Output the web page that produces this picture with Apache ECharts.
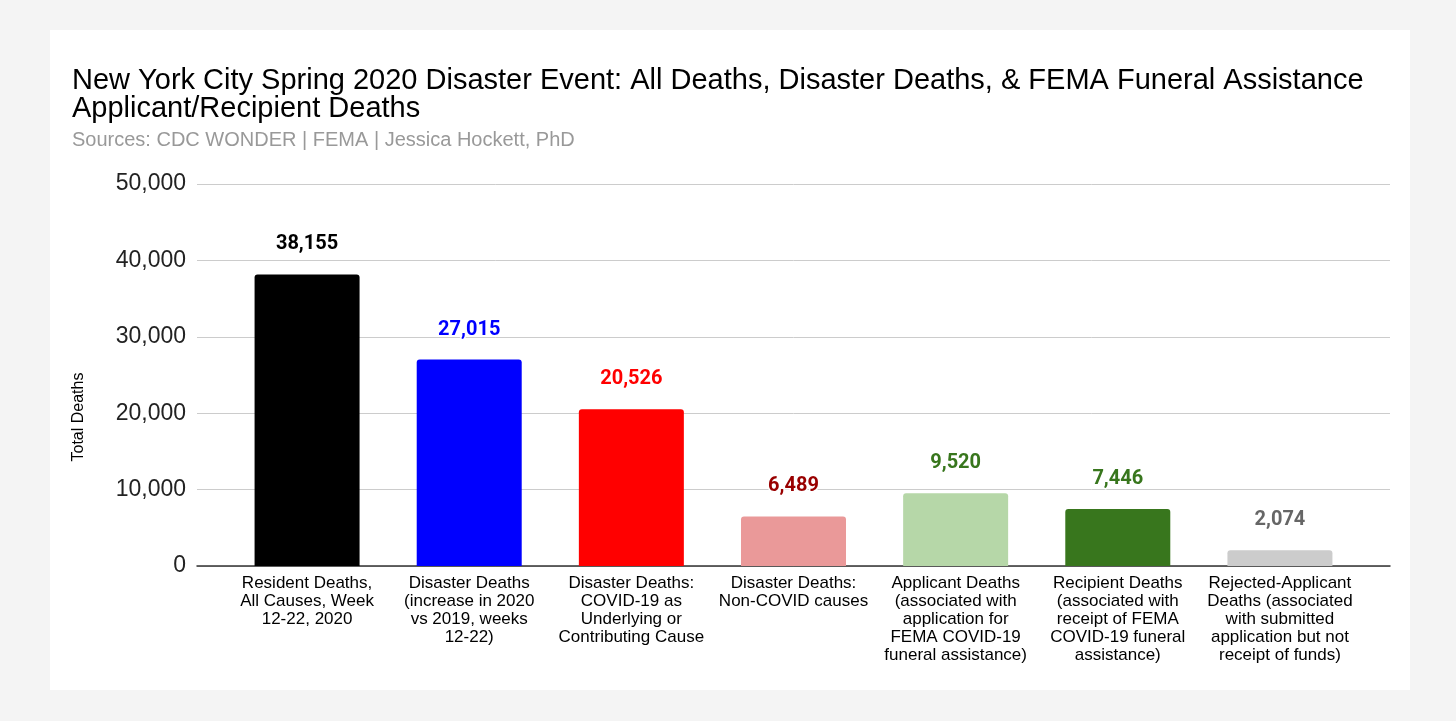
<!DOCTYPE html>
<html>
<head>
<meta charset="utf-8">
<script src="https://cdn.jsdelivr.net/npm/echarts@6/dist/echarts.min.js"></script>
<style>
  html, body { margin: 0; padding: 0; background: #f4f4f4; }
  #chart { width: 1456px; height: 721px; }
</style>
</head>
<body>
<div id="chart"></div>
<script>
// 数据
const categories = [
  'Resident Deaths,\nAll Causes, Week\n12-22, 2020',
  'Disaster Deaths\n(increase in 2020\nvs 2019, weeks\n12-22)',
  'Disaster Deaths:\nCOVID-19 as\nUnderlying or\nContributing Cause',
  'Disaster Deaths:\nNon-COVID causes',
  'Applicant Deaths\n(associated with\napplication for\nFEMA COVID-19\nfuneral assistance)',
  'Recipient Deaths\n(associated with\nreceipt of FEMA\nCOVID-19 funeral\nassistance)',
  'Rejected-Applicant\nDeaths (associated\nwith submitted\napplication but not\nreceipt of funds)'
]
const values = [38155, 27015, 20526, 6489, 9520, 7446, 2074]
const barColors = ['#000000', '#0000ff', '#ff0000', '#ea9999', '#b6d7a8', '#38761d', '#cccccc']
const labelColors = ['#000000', '#0000ff', '#ff0000', '#990000', '#38761d', '#38761d', '#666666']
const yMax = 50000
const yStep = 10000

const fmt = v => Number(v).toLocaleString('en-US')
const font = '"Liberation Sans", Arial, sans-serif'

const myChart = echarts.init(document.getElementById('chart'))

const option = {
  backgroundColor: 'transparent',
  animation: false,
  // 白色卡片
  graphic: [{
    type: 'rect',
    z: -10,
    silent: true,
    shape: { x: 50, y: 30, width: 1360, height: 660 },
    style: { fill: '#ffffff' }
  }],
  title: [{
    text: 'New York City Spring 2020 Disaster Event: All Deaths, Disaster Deaths, & FEMA Funeral Assistance\nApplicant/Recipient Deaths',
    left: 72,
    top: 67,
    padding: 0,
    textStyle: { fontFamily: font, fontSize: 29, lineHeight: 28, fontWeight: 'normal', color: '#000' }
  }, {
    text: 'Sources: CDC WONDER | FEMA | Jessica Hockett, PhD',
    left: 72,
    top: 130,
    padding: 0,
    textStyle: { fontFamily: font, fontSize: 20, lineHeight: 20, fontWeight: 'normal', color: '#999' }
  }],
  grid: [
    // 网格线和y轴
    { left: 197, right: 66, top: 184, bottom: 155 },
    // 柱子
    { left: 226, right: 95, top: 184, bottom: 155 }
  ],
  xAxis: [{
    gridIndex: 0,
    type: 'category',
    data: [''],
    axisLine: { show: true, lineStyle: { color: '#333', width: 1.5 } },
    axisTick: { show: false },
    axisLabel: { show: false }
  }, {
    gridIndex: 1,
    type: 'category',
    data: categories,
    axisLine: { show: false },
    axisTick: { show: false },
    axisLabel: {
      interval: 0,
      margin: 8,
      fontFamily: font,
      fontSize: 17,
      lineHeight: 18,
      color: '#000'
    }
  }],
  yAxis: [{
    gridIndex: 0,
    type: 'value',
    min: 0,
    max: yMax,
    interval: yStep,
    name: 'Total Deaths',
    nameLocation: 'middle',
    nameGap: 110,
    nameTextStyle: { fontFamily: font, fontSize: 16, color: '#000', padding: [0, 84, 0, 0] },
    axisLine: { show: false },
    axisTick: { show: false },
    axisLabel: { fontFamily: font, fontSize: 23, color: '#222', margin: 11, formatter: fmt },
    splitLine: { lineStyle: { color: '#cccccc', width: 1 } }
  }, {
    gridIndex: 1,
    type: 'value',
    min: 0,
    max: yMax,
    interval: yStep,
    show: false,
    splitLine: { show: false }
  }],
  series: [{
    type: 'bar',
    xAxisIndex: 1,
    yAxisIndex: 1,
    barWidth: 105,
    itemStyle: { borderRadius: [3, 3, 0, 0] },
    label: {
      show: true,
      position: 'top',
      distance: 20,
      fontFamily: 'Roboto, sans-serif',
      fontWeight: 'bold',
      fontSize: 20,
      textBorderColor: '#fff',
      textBorderWidth: 3,
      formatter: p => fmt(p.value)
    },
    data: values.map((v, i) => ({
      value: v,
      itemStyle: { color: barColors[i] },
      label: { color: labelColors[i] }
    }))
  }]
}
myChart.setOption(option)
</script>
</body>
</html>
